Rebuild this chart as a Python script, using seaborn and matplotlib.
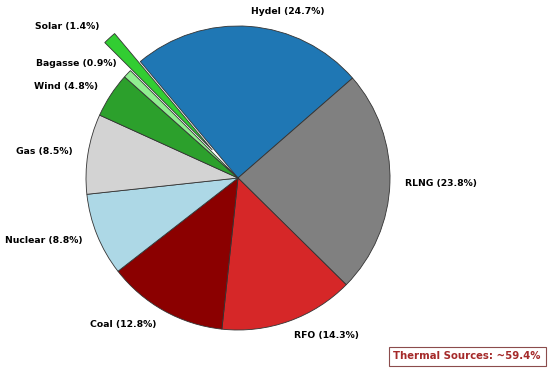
import matplotlib
matplotlib.use("Agg")
import matplotlib.pyplot as plt
import seaborn as sns

# energy mix data
sources = ["Hydel", "RLNG", "RFO", "Coal", "Nuclear", "Gas", "Wind", "Bagasse", "Solar"]
shares = [24.7, 23.8, 14.3, 12.8, 8.8, 8.5, 4.8, 0.9, 1.4]
colours = ["#1f77b4", "#808080", "#d62728", "#8b0000", "#add8e6",
           "#d3d3d3", "#2ca02c", "#90ee90", "#32cd32"]
thermal = ["RLNG", "RFO", "Coal", "Gas"]

sns.set_theme(style="white")
plt.rcParams['font.family'] = ['DejaVu Sans']

labels = [s + " (" + str(v) + "%)" for s, v in zip(sources, shares)]
explode = [0.25 if s == "Solar" else 0 for s in sources]

fig = plt.figure(figsize=(5.5, 3.7), dpi=100)
ax = fig.add_axes([0, 0, 1, 1])

wedges, texts = ax.pie(shares, labels=labels, colors=colours, explode=explode,
                       startangle=130, counterclock=False,
                       wedgeprops={'edgecolor': '#333333', 'linewidth': 0.6},
                       textprops={'fontsize': 6.7, 'fontweight': 'bold', 'color': 'black'})

# place the pie by hand (radius ~152px, centre at 238,178)
ax.set_aspect('auto')
ax.set_xlim(-238 / 152, 312 / 152)
ax.set_ylim(-192 / 152, 178 / 152)
ax.axis('off')

thermal_total = sum(v for s, v in zip(sources, shares) if s in thermal)
fig.text(0.9836, 0.024, "Thermal Sources: ~" + str(round(thermal_total, 1)) + "%",
         ha='right', va='bottom', fontsize=7.3, fontweight='bold', color='#a52a2a',
         bbox=dict(boxstyle='square,pad=0.45', facecolor='white', edgecolor='#8b4c4c', linewidth=0.8))

fig.savefig("out.png", dpi=100)
